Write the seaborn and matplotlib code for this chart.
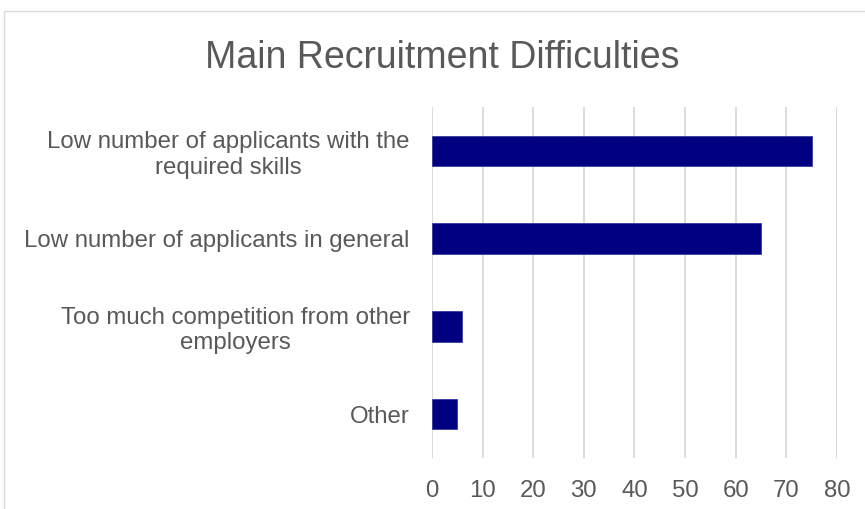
import matplotlib
matplotlib.use("Agg")
import matplotlib.pyplot as plt
import seaborn as sns
import pandas as pd
from matplotlib.patches import Rectangle

categories = [
    "Low number of applicants with the\nrequired skills",
    "Low number of applicants in general",
    "Too much competition from other\nemployers",
    "Other",
]
values = [75, 65, 6, 5]
x_ticks = [0, 10, 20, 30, 40, 50, 60, 70, 80]

df = pd.DataFrame({"category": categories, "value": values})

sns.set_theme(style="white")
plt.rcParams["font.family"] = ["Liberation Sans", "DejaVu Sans"]

fig = plt.figure(figsize=(8.65, 5.09), dpi=100)
ax = fig.add_axes([0.4994, 0.1002, 0.4682, 0.6895])

sns.barplot(data=df, x="value", y="category", orient="h", color="#000080",
            saturation=1, width=0.35, ax=ax, edgecolor="#3a3a9a", linewidth=0.6)

ax.set_xlim(0, 80)
ax.set_xticks(x_ticks)
ax.set_xticklabels([str(t) for t in x_ticks])
ax.xaxis.grid(True, color="#d9d9d9", linewidth=1.3)
ax.set_axisbelow(True)
for s in ax.spines.values():
    s.set_visible(False)
ax.set_xlabel("")
ax.set_ylabel("")
ax.tick_params(axis="x", length=0, pad=16, labelsize=17.3, labelcolor="#595959")
ax.tick_params(axis="y", length=0, pad=16, labelsize=17.3, labelcolor="#595959")
for lbl in ax.get_yticklabels():
    lbl.set_multialignment("center")
    lbl.set_linespacing(1.2)

fig.text(442 / 865, 1 - 68 / 509, "Main Recruitment Difficulties", ha="center",
         va="baseline", fontsize=27, color="#595959")

fig.patches.append(Rectangle((4 / 865, -0.05), 1.2, (509 - 11) / 509 + 0.05,
                             transform=fig.transFigure, fill=False,
                             edgecolor="#d9d9d9", linewidth=1.0))

fig.savefig("out.png", dpi=100)
